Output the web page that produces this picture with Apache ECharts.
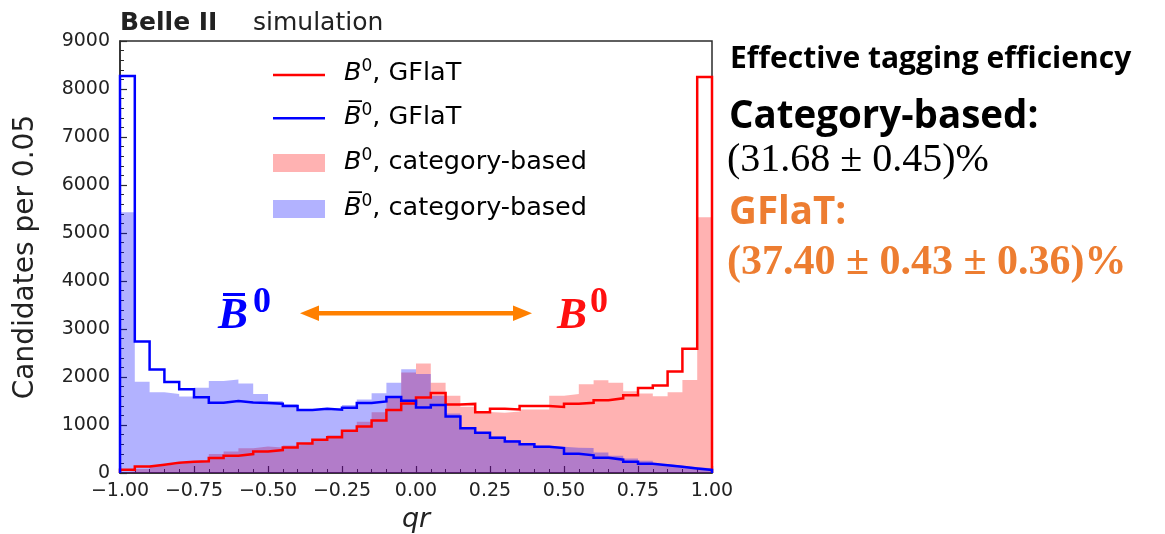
<!DOCTYPE html>
<html>
<head>
<meta charset="utf-8">
<script src="https://cdn.jsdelivr.net/npm/echarts@6/dist/echarts.min.js"></script>
<style>
html,body{margin:0;padding:0;background:#fff;}
#chart{width:1165px;height:534px;}
</style>
</head>
<body>
<div id="chart"></div>
<script>
// Histogram binning (qr from -1 to 1, 40 bins of 0.05)
const binLow = -1;
const binWidth = 0.05;

// B0, GFlaT (red step line)
const bGFlaT = [69, 135, 173, 212, 235, 245, 315, 360, 394, 450, 478, 533, 616, 692, 745, 882, 968, 1095, 1315, 1450,
  1575, 1665, 1425, 1440, 1268, 1338, 1324, 1397, 1394, 1376, 1443, 1462, 1515, 1556, 1618, 1772, 1823, 2115, 2590, 8250];
// B0bar, GFlaT (blue step line)
const bbarGFlaT = [8270, 2740, 2155, 1895, 1745, 1580, 1462, 1500, 1470, 1460, 1445, 1398, 1315, 1340, 1318, 1360, 1456, 1490, 1585, 1505,
  1365, 1415, 1176, 930, 840, 735, 655, 600, 545, 520, 400, 368, 319, 278, 236, 191, 163, 128, 94, 63];
// B0, category-based (red filled)
const bCat = [35, 85, 150, 190, 230, 250, 395, 450, 515, 550, 530, 575, 612, 700, 785, 860, 1070, 1265, 1570, 2095,
  2280, 1880, 1610, 1380, 1270, 1255, 1280, 1325, 1325, 1610, 1645, 1850, 1930, 1880, 1705, 1655, 1600, 1680, 1940, 5330];
// B0bar, category-based (blue filled)
const bbarCat = [5430, 1900, 1680, 1645, 1595, 1775, 1915, 1950, 1862, 1645, 1500, 1430, 1330, 1335, 1350, 1415, 1530, 1660, 1880, 2160,
  2060, 1610, 1240, 950, 830, 760, 685, 616, 567, 547, 525, 519, 429, 360, 304, 256, 187, 152, 118, 97];

const legendLabels = ['B0, GFlaT', 'B0bar, GFlaT', 'B0, category-based', 'B0bar, category-based'];

function stepData(vals) {
  const pts = [[binLow, 0]];
  vals.forEach((v, i) => pts.push([binLow + i * binWidth, v]));
  const hi = binLow + vals.length * binWidth;
  pts.push([hi, vals[vals.length - 1]]);
  pts.push([hi, 0]);
  return pts;
}

const AX = '#2b2b2b';
const TXT = '#222';
const SANS = 'DejaVu Sans';

const chart = echarts.init(document.getElementById('chart'), null, {renderer: 'canvas'});

function fillSeries(name, vals, color) {
  return {
    name: name, type: 'line', step: 'end', data: stepData(vals), symbol: 'none', silent: true,
    lineStyle: {width: 0, opacity: 0}, areaStyle: {color: color, opacity: 1}, z: 1
  };
}
function stepSeries(name, vals, color, z) {
  return {
    name: name, type: 'line', step: 'end', data: stepData(vals), symbol: 'none', silent: true,
    lineStyle: {color: color, width: 2.5, join: 'miter', cap: 'butt'}, z: z
  };
}

const legendRich = {
  i: {fontFamily: SANS, fontStyle: 'italic', fontSize: 25.5, lineHeight: 30, color: TXT},
  s: {fontFamily: SANS, fontSize: 17, lineHeight: 17, verticalAlign: 'top', color: TXT},
  n: {fontFamily: SANS, fontSize: 25.5, lineHeight: 30, color: TXT}
};

const option = {
  animation: false,
  backgroundColor: '#fff',
  grid: {left: 120, right: 453, top: 41, bottom: 61, outerBoundsMode: 'none', containLabel: false,
    show: true, borderColor: AX, borderWidth: 1.5, backgroundColor: 'transparent'},
  xAxis: {
    type: 'value', min: -1, max: 1, interval: 0.25,
    axisLine: {show: true, onZero: false, lineStyle: {color: AX, width: 1.5}},
    axisTick: {show: true, inside: true, length: 7, lineStyle: {color: AX, width: 1.2}},
    minorTick: {show: true, splitNumber: 5, length: 4, lineStyle: {color: AX, width: 1}},
    splitLine: {show: false},
    axisLabel: {
      show: true, margin: 9, color: TXT, fontFamily: SANS, fontSize: 19, showMinLabel: true, showMaxLabel: true,
      formatter: v => (v < 0 ? '\u2212' : '') + Math.abs(v).toFixed(2)
    },
    name: 'qr', nameLocation: 'middle', nameGap: 33,
    nameTextStyle: {fontFamily: SANS, fontStyle: 'italic', fontSize: 27, color: TXT}
  },
  yAxis: {
    type: 'value', min: 0, max: 9000, interval: 1000,
    axisLine: {show: true, onZero: false, lineStyle: {color: AX, width: 1.5}},
    axisTick: {show: true, inside: true, length: 7, lineStyle: {color: AX, width: 1.2}},
    minorTick: {show: true, splitNumber: 5, length: 4, lineStyle: {color: AX, width: 1}},
    splitLine: {show: false},
    axisLabel: {show: true, margin: 10, color: TXT, fontFamily: SANS, fontSize: 19, formatter: v => String(v)},
    name: 'Candidates per 0.05', nameLocation: 'middle', nameGap: 80,
    nameTextStyle: {fontFamily: SANS, fontSize: 28, color: TXT}
  },
  series: [
    fillSeries(legendLabels[2], bCat, 'rgba(255,0,0,0.3)'),
    fillSeries(legendLabels[3], bbarCat, 'rgba(0,0,255,0.3)'),
    stepSeries(legendLabels[0], bGFlaT, '#ff0000', 3),
    stepSeries(legendLabels[1], bbarGFlaT, '#0000ff', 4)
  ],
  graphic: [
    // Title
    {type: 'text', left: 120, top: 11, z: 100, style: {text: 'Belle II', font: 'bold 25px "DejaVu Sans"', fill: TXT}},
    {type: 'text', left: 253, top: 11, z: 100, style: {text: 'simulation', font: '25px "DejaVu Sans"', fill: TXT}},
    // Legend
    {type: 'rect', z: 100, shape: {x: 273, y: 73.8, width: 52, height: 2.5}, style: {fill: '#ff0000'}},
    {type: 'rect', z: 100, shape: {x: 273, y: 117, width: 52, height: 2.5}, style: {fill: '#0000ff'}},
    {type: 'rect', z: 100, shape: {x: 273, y: 154, width: 52, height: 18}, style: {fill: 'rgba(255,0,0,0.3)'}},
    {type: 'rect', z: 100, shape: {x: 273, y: 200, width: 52, height: 18}, style: {fill: 'rgba(0,0,255,0.3)'}},
    {type: 'text', z: 100, x: 344, y: 73, style: {text: '{i|B}{s|0}{n|, GFlaT}', rich: legendRich, verticalAlign: 'middle'}},
    {type: 'text', z: 100, x: 344, y: 117, style: {text: '{i|B\u0305}{s|0}{n|, GFlaT}', rich: legendRich, verticalAlign: 'middle'}},
    {type: 'text', z: 100, x: 344, y: 162, style: {text: '{i|B}{s|0}{n|, category-based}', rich: legendRich, verticalAlign: 'middle'}},
    {type: 'text', z: 100, x: 344, y: 208, style: {text: '{i|B\u0305}{s|0}{n|, category-based}', rich: legendRich, verticalAlign: 'middle'}},
    // Annotations in the plot
    {type: 'text', z: 100, x: 218, y: 316, style: {text: 'B', font: 'italic bold 45px "Liberation Serif"', fill: '#0000ff', verticalAlign: 'middle'}},
    {type: 'rect', z: 100, shape: {x: 223, y: 293, width: 22, height: 3}, style: {fill: '#0000ff'}},
    {type: 'text', z: 100, x: 253, y: 303, style: {text: '0', font: 'bold 36px "Liberation Serif"', fill: '#0000ff', verticalAlign: 'middle'}},
    {type: 'text', z: 100, x: 557, y: 316, style: {text: 'B', font: 'italic bold 45px "Liberation Serif"', fill: '#ff1010', verticalAlign: 'middle'}},
    {type: 'text', z: 100, x: 590, y: 303, style: {text: '0', font: 'bold 36px "Liberation Serif"', fill: '#ff1010', verticalAlign: 'middle'}},
    // Double-headed arrow
    {type: 'rect', z: 100, shape: {x: 316, y: 311, width: 200, height: 4.5}, style: {fill: '#ff8000'}},
    {type: 'polygon', z: 100, shape: {points: [[300, 313.3], [319, 305.5], [319, 321]]}, style: {fill: '#ff8000'}},
    {type: 'polygon', z: 100, shape: {points: [[532, 313.3], [513, 305.5], [513, 321]]}, style: {fill: '#ff8000'}},
    // Right-hand text panel
    {type: 'text', z: 100, x: 730, y: 59, style: {text: 'Effective tagging efficiency', font: 'bold 30px "Open Sans"', fill: '#000', verticalAlign: 'middle'}},
    {type: 'text', z: 100, x: 729, y: 117, style: {text: 'Category-based:', font: 'bold 38.5px "Open Sans"', fill: '#000', verticalAlign: 'middle'}},
    {type: 'text', z: 100, x: 727, y: 160, style: {text: '(31.68 \u00b1 0.45)%', font: '40px "Liberation Serif"', fill: '#000', verticalAlign: 'middle'}},
    {type: 'text', z: 100, x: 729, y: 213, style: {text: 'GFlaT:', font: 'bold 38.5px "Open Sans"', fill: '#ed7d31', verticalAlign: 'middle'}},
    {type: 'text', z: 100, x: 727, y: 263, style: {text: '(37.40 \u00b1 0.43 \u00b1 0.36)%', font: 'bold 42px "Liberation Serif"', fill: '#ed7d31', verticalAlign: 'middle'}}
  ]
};
chart.setOption(option);
</script>
</body>
</html>
